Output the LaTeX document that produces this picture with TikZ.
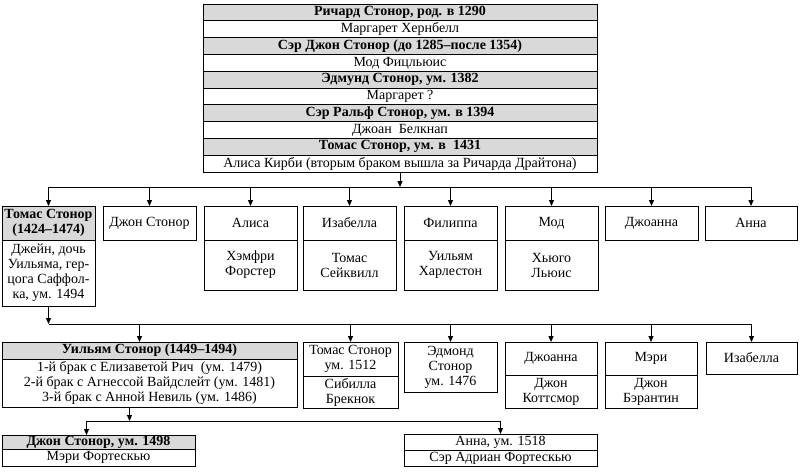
\documentclass[tikz,border=0pt]{standalone}
\usepackage{fontspec}
\setmainfont{Liberation Serif}
\usetikzlibrary{positioning,arrows.meta}

\begin{document}
\begin{tikzpicture}[x=1pt,y=-1pt,
    box/.style={draw,line width=1pt,inner sep=0pt,outer sep=0pt,align=center,
      font=\fontsize{14}{15}\selectfont},
    heir/.style={box,fill=black!15,font=\fontsize{14}{15}\selectfont\bfseries},
    row/.style={minimum width=394pt,minimum height=16.8pt},
    kid/.style={anchor=north west,minimum width=93pt},
    line/.style={line width=1pt},
    arr/.style={line width=1pt,-{Triangle[length=6pt,width=5pt]}}]
  \useasboundingbox (0,0) rectangle (800,475);

  % the direct line, one row each
  \node[heir,row,anchor=north west] (richard) at (203,4) {Ричард Стонор, род. в 1290};
  \node[box,row,below=0pt of richard] (hernbell) {Маргарет Хернбелл};
  \node[heir,row,below=0pt of hernbell] (john1) {Сэр Джон Стонор (до 1285–после 1354)};
  \node[box,row,below=0pt of john1] (fitz) {Мод Фицльюис};
  \node[heir,row,below=0pt of fitz] (edmund) {Эдмунд Стонор, ум. 1382};
  \node[box,row,below=0pt of edmund] (margaret) {Маргарет ?};
  \node[heir,row,below=0pt of margaret] (ralph) {Сэр Ральф Стонор, ум. в 1394};
  \node[box,row,below=0pt of ralph] (belknap) {Джоан~ Белкнап};
  \node[heir,row,below=0pt of belknap] (thomas1) {Томас Стонор, ум. в~ 1431};
  \node[box,row,below=0pt of thomas1] (kirby) {Алиса Кирби (вторым браком вышла за Ричарда Драйтона)};

  % children of Thomas and Alice
  \node[heir,kid,minimum height=34pt] (thomas) at (2,206) {Томас Стонор\\(1424–1474)};
  \node[box,below=0pt of thomas,minimum width=93pt,minimum height=66pt] (jane)
    {Джейн, дочь\\Уильяма, гер-\\цога Саффол-\\ка, ум. 1494};
  \node[box,kid,minimum height=34pt] (johnb) at (103,206) {Джон Стонор};
  \node[box,kid,minimum height=34pt] (alice) at (204,206) {Алиса};
  \node[box,below=0pt of alice,minimum width=93pt,minimum height=50pt] (forster) {Хэмфри\\Форстер};
  \node[box,kid,minimum height=34pt] (isabel) at (303,206) {Изабелла};
  \node[box,below=0pt of isabel,minimum width=93pt,minimum height=50pt] (sackville) {Томас\\Сейквилл};
  \node[box,kid,minimum height=34pt] (philippa) at (404,206) {Филиппа};
  \node[box,below=0pt of philippa,minimum width=93pt,minimum height=50pt] (harleston) {Уильям\\Харлестон};
  \node[box,kid,minimum height=34pt] (maud) at (505,206) {Мод};
  \node[box,below=0pt of maud,minimum width=93pt,minimum height=50pt] (lewis) {Хьюго\\Льюис};
  \node[box,kid,minimum height=34pt] (joan) at (605,206) {Джоанна};
  \node[box,kid,minimum height=34pt,minimum width=92pt] (anna) at (705,206) {Анна};

  % children of Thomas and Jane
  \node[heir,kid,minimum width=295pt,minimum height=17pt] (william) at (2,342) {Уильям Стонор (1449–1494)};
  \node[box,below=0pt of william,minimum width=295pt,minimum height=48pt] (wives)
    {1-й брак с Елизаветой Рич~ (ум. 1479)\\2-й брак с Агнессой Вайдслейт (ум. 1481)\\3-й брак с Анной Невиль (ум. 1486)};
  \node[box,kid,minimum width=95pt,minimum height=34pt] (thomas2) at (303,342) {Томас Стонор\\ум. 1512};
  \node[box,below=0pt of thomas2,minimum width=95pt,minimum height=32pt] (brecknock) {Сибилла\\Брекнок};
  \node[box,kid,minimum height=50pt] (edmond) at (404,342) {Эдмонд\\Стонор\\ум. 1476};
  \node[box,kid,minimum width=92pt,minimum height=33pt] (joan2) at (505,342) {Джоанна};
  \node[box,below=0pt of joan2,minimum width=92pt,minimum height=33pt] (cottesmore) {Джон\\Коттсмор};
  \node[box,kid,minimum width=92pt,minimum height=33pt] (mary) at (605,342) {Мэри};
  \node[box,below=0pt of mary,minimum width=92pt,minimum height=33pt] (barentyn) {Джон\\Бэрантин};
  \node[box,kid,minimum width=91pt,minimum height=32pt] (isabel2) at (706,342) {Изабелла};

  % children of William
  \node[heir,kid,minimum width=193pt,minimum height=14pt] (john2) at (2,435) {Джон Стонор, ум. 1498};
  \node[box,below=0pt of john2,minimum width=193pt,minimum height=17pt] (maryf) {Мэри Фортескью};
  \node[box,kid,minimum width=193pt,minimum height=16pt] (anne) at (404,434) {Анна, ум. 1518};
  \node[box,below=0pt of anne,minimum width=193pt,minimum height=16pt] (adrian) {Сэр Адриан Фортескью};

  % connectors
  \coordinate (bus1) at (0,187);
  \coordinate (bus2) at (0,324);
  \coordinate (bus3) at (0,421);
  \coordinate (wtop) at ([xshift=-10pt]william.north);
  \coordinate (wbot) at ([xshift=-20pt]wives.south);
  \coordinate (jtop) at ([xshift=-12pt]john2.north);

  \draw[arr] (kirby.south) -- (kirby.south |- bus1);
  \draw[line] (thomas.north |- bus1) -- (anna.north |- bus1);
  \foreach \n in {thomas,johnb,alice,isabel,philippa,maud,joan,anna}
    \draw[arr] (\n.north |- bus1) -- (\n.north);

  \draw[arr] (jane.south) -- (jane.south |- bus2);
  \draw[line] (jane.south |- bus2) -- (isabel2.north |- bus2);
  \draw[arr] (wtop |- bus2) -- (wtop);
  \foreach \n in {thomas2,edmond,joan2,mary,isabel2}
    \draw[arr] (\n.north |- bus2) -- (\n.north);

  \draw[arr] (wbot) -- (wbot |- bus3);
  \draw[line] (jtop |- bus3) -- (anne.north |- bus3);
  \draw[arr] (jtop |- bus3) -- (jtop);
  \draw[arr] (anne.north |- bus3) -- (anne.north);
\end{tikzpicture}
\end{document}
